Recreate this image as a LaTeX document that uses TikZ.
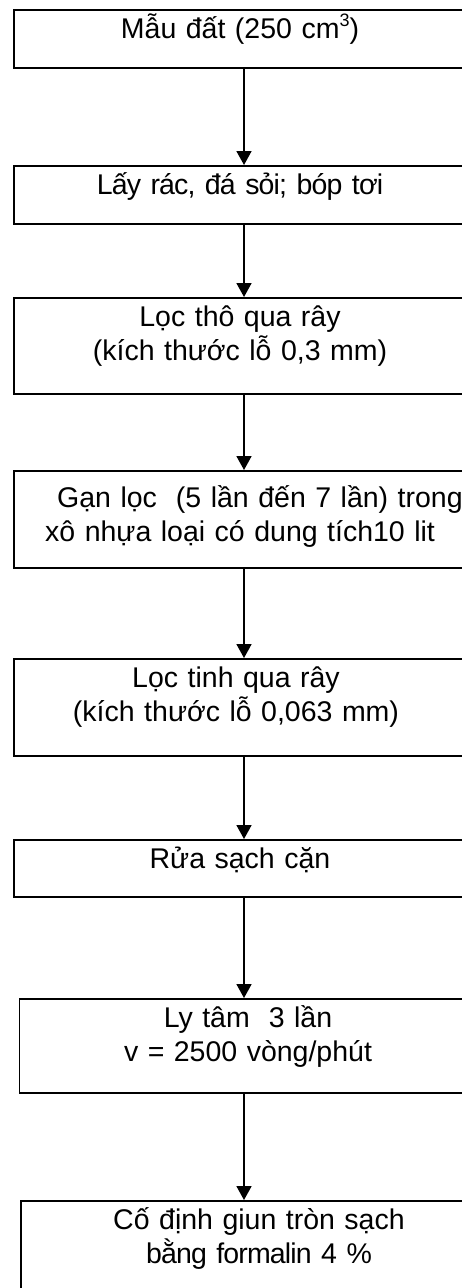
\documentclass[tikz,border=0pt]{standalone}
\usepackage{fontspec}
\setmainfont{Liberation Sans}
\usetikzlibrary{arrows.meta}
\newcommand{\supthree}{\raisebox{0.42em}{\fontsize{18}{18}\selectfont 3}}
\tikzset{
  stepbox/.style={draw=black, line width=1.8pt, fill=white, inner sep=0pt, anchor=north west},
  steptext/.style={inner sep=0pt, text width=440pt, align=center, anchor=base,
    font=\fontsize{28.5}{34}\selectfont},
  flow/.style={line width=1.8pt, -{Triangle[length=14pt,width=15pt]}, shorten <=-1pt}
}
\begin{document}
\begin{tikzpicture}[x=1pt,y=-1pt]
  \useasboundingbox (0,0) rectangle (462,1288);
  \clip (0,0) rectangle (462,1288);
  % step boxes (right edges run past the page)
  \node[stepbox, minimum width=454pt, minimum height=58pt] (b1) at (13,9) {};
  \node[stepbox, minimum width=454pt, minimum height=58pt] (b2) at (13,165) {};
  \node[stepbox, minimum width=454pt, minimum height=96pt] (b3) at (13,297) {};
  \node[stepbox, minimum width=460pt, minimum height=97pt] (b4) at (13,470) {};
  \node[stepbox, minimum width=454pt, minimum height=97pt] (b5) at (13,658) {};
  \node[stepbox, minimum width=454pt, minimum height=57pt] (b6) at (13,839) {};
  \node[stepbox, minimum width=460pt, minimum height=94pt] (b7) at (18.5,998) {};
  \node[stepbox, minimum width=480pt, minimum height=110pt] (b8) at (20,1200) {};
  % labels
  \node[steptext] (t1) at (240,38) {Mẫu đất (250 cm\supthree)};
  \node[steptext] (t2) at (240,194) {{\addfontfeature{LetterSpace=-3}Lấy rác, đá sỏi; bóp tơi}};
  \node[steptext] (t3) at (240,326) {Lọc thô qua rây\\(kích thước lỗ 0,3 mm)};
  \node[steptext, align=left, anchor=base west] (t4) at (45,507)
    {\hspace*{12pt}Gạn lọc \ (5 lần đến 7 lần) trong\\xô nhựa loại có dung tích10 lit};
  \node[steptext] (t5) at (236,687) {Lọc tinh qua rây\\(kích thước lỗ 0,063 mm)};
  \node[steptext] (t6) at (240,868) {Rửa sạch cặn};
  \node[steptext] (t7) at (248,1027) {Ly tâm \ 3 lần\\v = 2500 vòng/phút};
  \node[steptext] (t8) at (259,1229)
    {Cố định giun tròn sạch\\{\addfontfeature{LetterSpace=-3}bằng formalin 4 \%}};
  % connectors
  \coordinate (ax) at (244,0);
  \draw[flow] (b1.south -| ax) -- (b2.north -| ax);
  \draw[flow] (b2.south -| ax) -- (b3.north -| ax);
  \draw[flow] (b3.south -| ax) -- (b4.north -| ax);
  \draw[flow] (b4.south -| ax) -- (b5.north -| ax);
  \draw[flow] (b5.south -| ax) -- (b6.north -| ax);
  \draw[flow] (b6.south -| ax) -- (b7.north -| ax);
  \draw[flow] (b7.south -| ax) -- (b8.north -| ax);
\end{tikzpicture}
\end{document}
